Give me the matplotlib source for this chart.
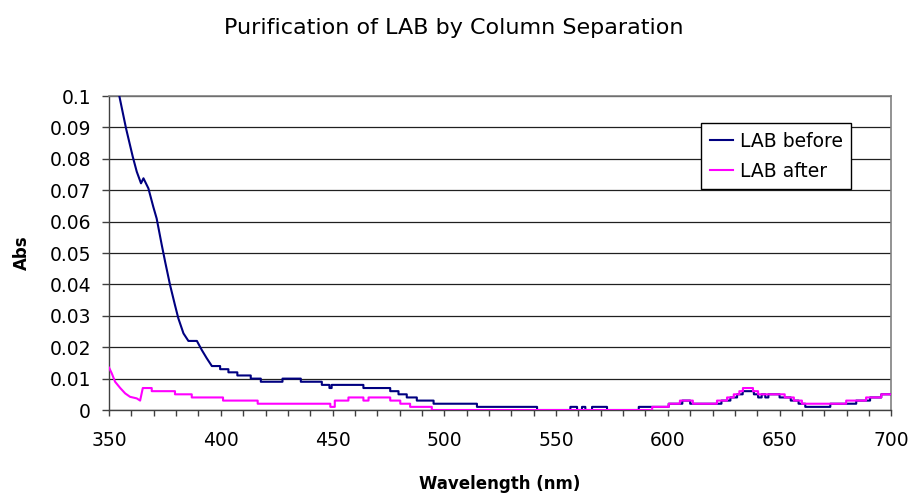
# -*- coding: utf-8 -*-
'''
UV-vis absorbance of LAB before and after column separation
'''

import numpy as np
import matplotlib
matplotlib.use('Agg')
import matplotlib.pyplot as plt
from matplotlib.ticker import MultipleLocator, FuncFormatter

# LAB before: steep edge below 400 nm (smooth part)
lsBeforeEdgeNm = [350, 354.6, 357.6, 360.6, 362.4, 364.3, 365.4, 367.6, 369.8, 371.3, 373.6,
                  375.1, 377.3, 379.5, 381, 383.3, 385.5, 389.3, 391.5, 393.7, 396]
lsBeforeEdgeAbs = [0.116, 0.100, 0.0897, 0.0807, 0.0759, 0.0722, 0.0738, 0.0706, 0.0647, 0.061, 0.0525,
                   0.0472, 0.0398, 0.0334, 0.0292, 0.0244, 0.022, 0.022, 0.0191, 0.0165, 0.014]

# LAB before: instrument resolution is 0.001 Abs, so the rest is a staircase (start nm, value)
lsBeforeStepNm = [396, 399.7, 403.4, 407.4, 413.4, 417.9, 427.6, 435.8, 445.2, 448.6, 449.6,
                  463.8, 475.8, 479.5, 483.2, 487.7, 495.2, 514.6, 541.5, 556.4, 559.4,
                  561.6, 563.1, 566.1, 572.8, 587.0, 600.4, 606.5, 610.0, 624.0, 628.0,
                  631.0, 633.5, 638.5, 640.4, 642.0, 643.6, 645.0, 650.0, 655.0, 658.5,
                  661.5, 672.7, 684.3, 690.5, 695.5]
lsBeforeStepAbs = [0.014, 0.013, 0.012, 0.011, 0.010, 0.009, 0.010, 0.009, 0.008, 0.007, 0.008,
                   0.007, 0.006, 0.005, 0.004, 0.003, 0.002, 0.001, 0.000, 0.001, 0.000,
                   0.001, 0.000, 0.001, 0.000, 0.001, 0.002, 0.003, 0.002, 0.003, 0.004,
                   0.005, 0.006, 0.005, 0.004, 0.005, 0.004, 0.005, 0.004, 0.003, 0.002,
                   0.001, 0.002, 0.003, 0.004, 0.005]

# LAB after
lsAfterEdgeNm = [350, 351.2, 352.7, 355, 357.2, 359.4, 362.4, 363.9, 365.1]
lsAfterEdgeAbs = [0.0135, 0.0117, 0.009, 0.007, 0.0053, 0.0042, 0.0037, 0.003, 0.007]

lsAfterStepNm = [365.1, 369.1, 379.5, 387.0, 401.0, 416.5, 449.0, 451.0, 457.1, 463.8,
                 466.1, 475.8, 480.3, 484.7, 494.4, 593.0, 600.4, 605.4, 611.2, 622.0,
                 626.5, 629.5, 632.0, 633.6, 638.1, 640.4, 652.3, 656.4, 660.0, 679.8,
                 688.7, 695.5]
lsAfterStepAbs = [0.007, 0.006, 0.005, 0.004, 0.003, 0.002, 0.001, 0.003, 0.004, 0.003,
                  0.004, 0.003, 0.002, 0.001, 0.000, 0.001, 0.002, 0.003, 0.002, 0.003,
                  0.004, 0.005, 0.006, 0.007, 0.006, 0.005, 0.004, 0.003, 0.002, 0.003,
                  0.004, 0.005]

nEndNm = 700


def expandSteps(lsStart, lsValue, nEnd):
    '''
        turn (start, value) pairs into x/y vertices of a staircase ending at nEnd
    '''
    arrX = np.repeat(np.append(lsStart, nEnd), 2)[1:-1]
    arrY = np.repeat(lsValue, 2)
    return arrX, arrY


def buildSpectrum(lsEdgeNm, lsEdgeAbs, lsStepNm, lsStepAbs):
    arrStepX, arrStepY = expandSteps(lsStepNm, lsStepAbs, nEndNm)
    return np.concatenate([lsEdgeNm, arrStepX]), np.concatenate([lsEdgeAbs, arrStepY])


def drawSpectra():
    fig = plt.figure(figsize=(9.11, 4.95), dpi=100)
    ax = fig.add_axes([0.1197, 0.1717, 0.8587, 0.6343])

    xBefore, yBefore = buildSpectrum(lsBeforeEdgeNm, lsBeforeEdgeAbs, lsBeforeStepNm, lsBeforeStepAbs)
    xAfter, yAfter = buildSpectrum(lsAfterEdgeNm, lsAfterEdgeAbs, lsAfterStepNm, lsAfterStepAbs)

    ax.plot(xBefore, yBefore, color='#000080', lw=1.5, label='LAB before', zorder=3)
    ax.plot(xAfter, yAfter, color='#FF00FF', lw=1.5, label='LAB after', zorder=4)

    ax.set_xlim(350, 700)
    ax.set_ylim(0, 0.1)

    ax.xaxis.set_major_locator(MultipleLocator(50))
    ax.xaxis.set_minor_locator(MultipleLocator(10))
    ax.yaxis.set_major_locator(MultipleLocator(0.01))
    ax.yaxis.set_major_formatter(FuncFormatter(lambda v, pos: '%g' % round(v, 3)))

    ax.tick_params(axis='both', which='both', direction='out', color='#404040', width=1)
    ax.tick_params(axis='x', which='both', length=4, pad=11, labelsize=13.5)
    ax.tick_params(axis='y', which='major', length=5, pad=8, labelsize=13.5)

    ax.grid(axis='y', color='#202020', lw=0.9)
    ax.set_axisbelow(True)

    for side in ['left', 'bottom']:
        ax.spines[side].set_color('#404040')
        ax.spines[side].set_linewidth(1)
    for side in ['top', 'right']:
        ax.spines[side].set_color('#808080')
        ax.spines[side].set_linewidth(1.2)

    ax.set_xlabel('Wavelength (nm)', fontsize=12, fontweight='bold', va='center')
    ax.xaxis.set_label_coords(0.5, -0.236)
    ax.set_ylabel('Abs', fontsize=12, fontweight='bold')
    ax.yaxis.set_label_coords(-0.1, 0.5)

    fig.text(0.498, 0.943, 'Purification of LAB by Column Separation', fontsize=16,
             ha='center', va='center')

    leg = ax.legend(loc='upper left', bbox_to_anchor=(0.757, 0.913), borderaxespad=0,
                    fontsize=13.5, handlelength=1.25, handletextpad=0.35, borderpad=0.45,
                    labelspacing=0.6, fancybox=False, framealpha=1)
    leg.get_frame().set_edgecolor('black')
    leg.get_frame().set_linewidth(1)

    fig.savefig('out.png', dpi=100)


if __name__ == '__main__':
    drawSpectra()
